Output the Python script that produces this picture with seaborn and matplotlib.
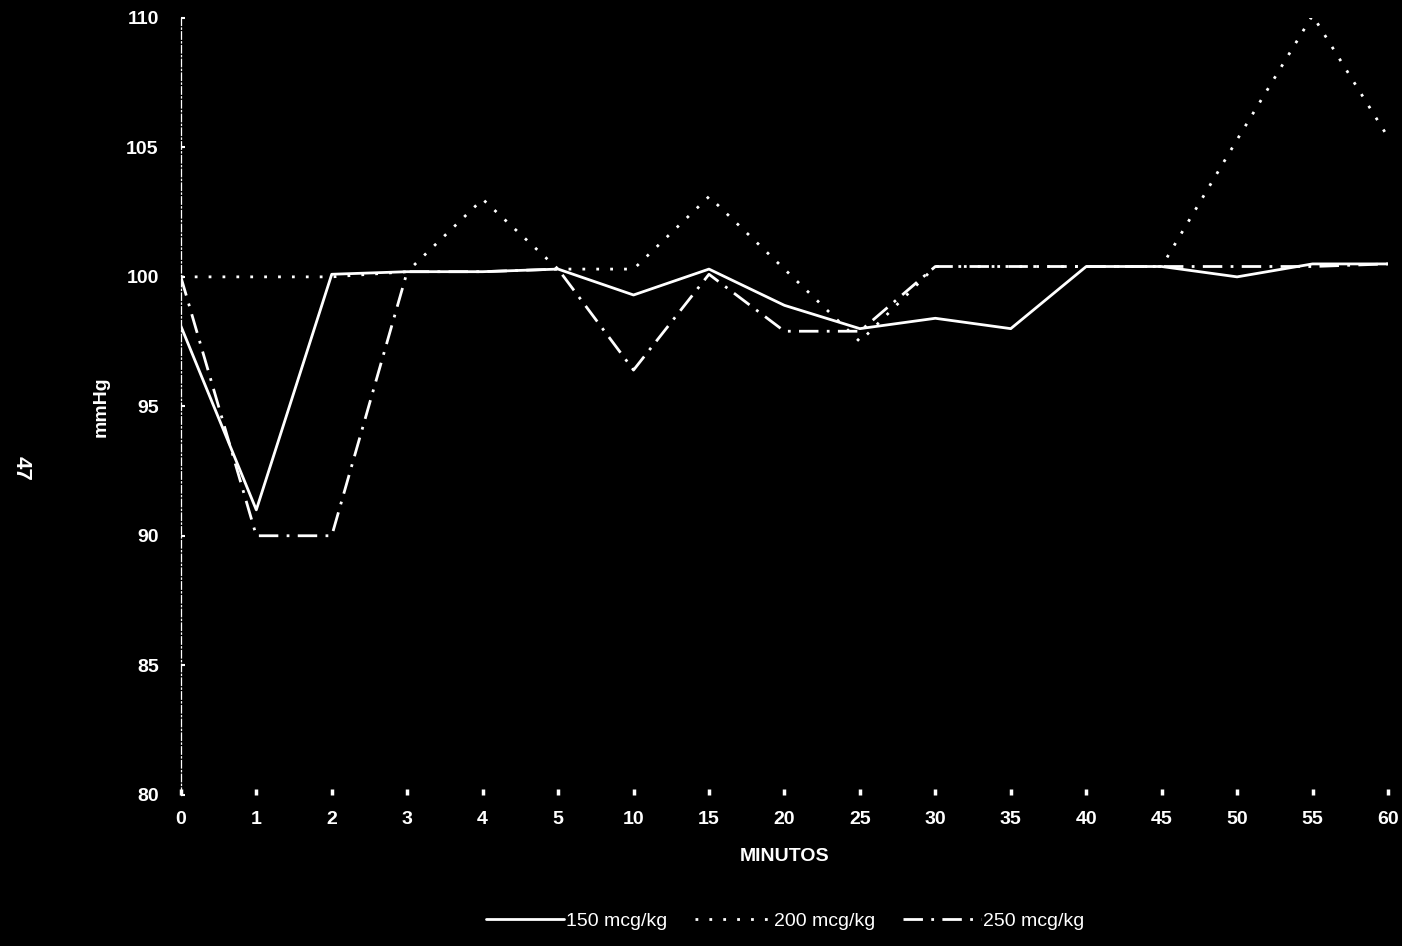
import seaborn as sns
import matplotlib.pyplot as plt
import matplotlib.lines as mlines
import pandas as pd

# -------- data ------------------------------------ #
minutes = ['0', '1', '2', '3', '4', '5', '10', '15', '20', '25', '30', '35', '40', '45', '50', '55', '60']
dose_150 = [98.1, 91.0, 100.1, 100.2, 100.2, 100.3, 99.3, 100.3, 98.9, 98.0, 98.4, 98.0, 100.4, 100.4, 100.0, 100.5, 100.5]
dose_200 = [100.0, 100.0, 100.0, 100.2, 103.0, 100.3, 100.3, 103.1, 100.3, 97.5, 100.4, 100.4, 100.4, 100.4, 105.3, 110.1, 105.4]
dose_250 = [100.0, 90.0, 90.0, 100.2, 100.2, 100.3, 96.4, 100.1, 97.9, 97.9, 100.4, 100.4, 100.4, 100.4, 100.4, 100.4, 100.5]
labels = ['150 mcg/kg', '200 mcg/kg', '250 mcg/kg']

df = pd.DataFrame({
    'pos': list(range(len(minutes))) * 3,
    'mmHg': dose_150 + dose_200 + dose_250,
    'dose': [labels[0]] * len(minutes) + [labels[1]] * len(minutes) + [labels[2]] * len(minutes),
})

# ------- styling ----- #
sns.set_style('dark')
plt.rcParams['font.family'] = ['Liberation Sans', 'DejaVu Sans']
plt.rcParams['figure.facecolor'] = 'black'
plt.rcParams['axes.facecolor'] = 'black'

line_styles = {
    labels[0]: '-',
    labels[1]: (0, (1, 4)),
    labels[2]: (0, (7, 3, 1, 3)),
}

fig = plt.figure(figsize=(14.02, 9.46), dpi=100)
ax = fig.add_axes([0.129, 0.160, 0.861, 0.821])

for lab in labels:
    sub = df[df['dose'] == lab]
    sns.lineplot(data=sub, x='pos', y='mmHg', color='white', linewidth=2,
                 linestyle=line_styles[lab], ax=ax, legend=False)

ax.set_xlim(0, len(minutes) - 1)
ax.set_ylim(80, 110)
ax.set_xticks(range(len(minutes)))
ax.set_xticklabels(minutes)
ax.set_yticks([80, 85, 90, 95, 100, 105, 110])
ax.grid(False)

for s in ['top', 'right', 'bottom']:
    ax.spines[s].set_visible(False)
ax.spines['left'].set_color('white')
ax.spines['left'].set_linewidth(0.9)
ax.spines['left'].set_linestyle((0, (6, 2, 1, 2)))

# seaborn's dark style switches the tick marks off, turn them back on
ax.tick_params(axis='x', bottom=True, colors='white', labelsize=14, direction='in', length=4, width=2.5, pad=12)
ax.tick_params(axis='y', left=True, colors='white', labelsize=14, direction='in', length=3, width=1.5, pad=16)
for t in ax.get_xticklabels() + ax.get_yticklabels():
    t.set_color('white')
    t.set_fontweight('semibold')

ax.set_xlabel('MINUTOS', color='white', fontsize=14, fontweight='bold', labelpad=14)
ax.set_ylabel('mmHg', color='white', fontsize=14, fontweight='semibold', labelpad=12)

fig.text(0.015, 0.505, '47', color='white', fontsize=16, fontweight='bold', rotation=-90, ha='center', va='center')

handles = [
    mlines.Line2D([], [], color='white', linewidth=2, linestyle=line_styles[lab]) for lab in labels
]
fig.legend(handles, labels, loc='center', bbox_to_anchor=(0.56, 0.026), ncol=3, frameon=False,
           fontsize=14, handlelength=4, handletextpad=0.1, columnspacing=1.4, labelcolor='white')

fig.savefig('out.png', dpi=100, facecolor='black')
